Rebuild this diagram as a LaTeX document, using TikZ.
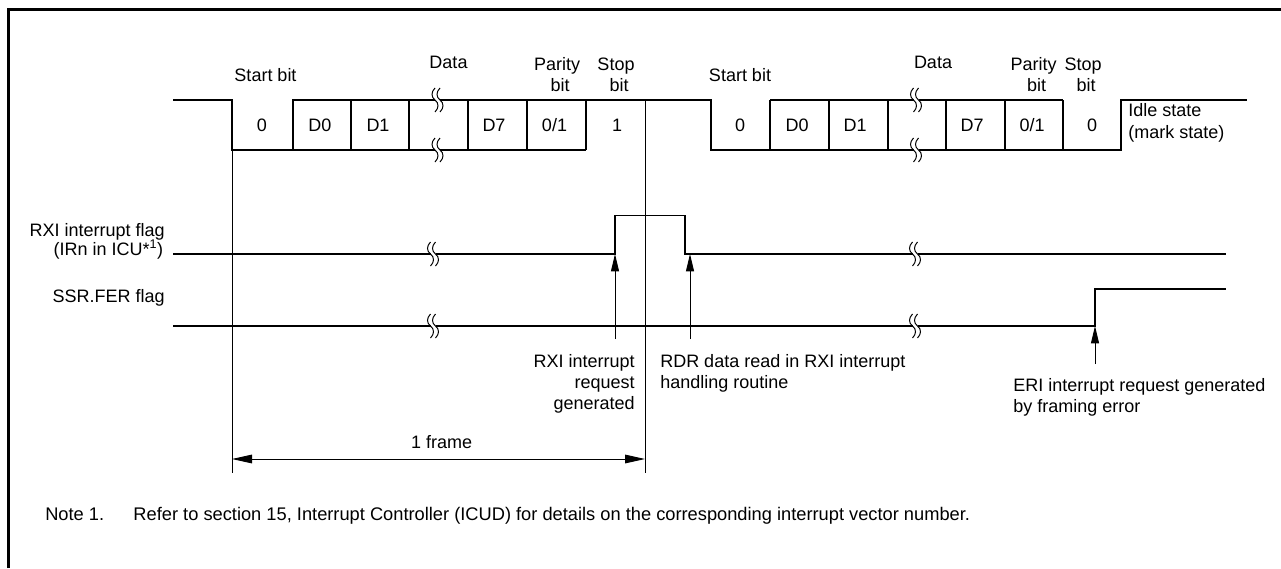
\documentclass[tikz,border=0pt]{standalone}
\usepackage{fontspec}
\setmainfont{Liberation Sans}
\usetikzlibrary{arrows.meta}
\tikzset{
  lbl/.style={inner sep=0pt, font=\fontsize{13.5}{15.75}\selectfont},
  notelbl/.style={inner sep=0pt, font=\fontsize{13.7}{16}\selectfont},
  sig/.style={line width=1.15pt},
  thinln/.style={line width=0.7pt},
  uparrow/.style={thinln, -{Triangle[length=13pt,width=6pt]}},
  dimarrow/.style={thinln, {Triangle[length=15pt,width=6.5pt]}-{Triangle[length=15pt,width=6.5pt]}},
  brkmark/.pic={
    \fill[white] (-2.5,-2.5) rectangle (2.5,2.5);
    \draw[line width=0.75pt] (-2.5,-12) .. controls (-6.5,-8) and (-6.5,-3) .. (-2.5,0) .. controls (1.5,3) and (1.5,8) .. (-2.5,12);
    \draw[line width=0.75pt] (2.5,-12) .. controls (-1.5,-8) and (-1.5,-3) .. (2.5,0) .. controls (6.5,3) and (6.5,8) .. (2.5,12);
  }
}
\begin{document}
\begin{tikzpicture}[x=0.75pt,y=-0.75pt]
\useasboundingbox (0,0) rectangle (1281,568);
% border
\draw[line width=2.25pt] (8.5,568) -- (8.5,9.5) -- (1281,9.5);

% ---------- serial waveform ----------
\draw[sig] (173,100) -- (232,100) -- (232,150) -- (586,150);
\draw[sig] (293,150) -- (293,100) -- (711,100) -- (711,150) -- (1121,150) -- (1121,100) -- (1247,100);
\draw[sig] (770,100) -- (1063,100);
\foreach \x in {351,409,468,527,586,770,829,888,946,1005,1063}
  \draw[sig] (\x,100) -- (\x,150);
% frame markers
\draw[thinln] (232,150) -- (232,473);
\draw[thinln] (645,100) -- (645,473);
% breaks in waveform
\pic at (437.5,100) {brkmark};
\pic at (437.5,150) {brkmark};
\pic at (916,100) {brkmark};
\pic at (916,150) {brkmark};

% labels above waveform
\node[lbl,anchor=base] (sb1) at (265.5,81.5) {Start bit};
\node[lbl,anchor=base] (dt1) at (448.5,68.5) {Data};
\node[lbl,anchor=base] (pa1) at (557,70.5) {Parity};
\node[lbl,anchor=base] (pb1) at (560,91.5) {bit};
\node[lbl,anchor=base] (st1) at (616,70.5) {Stop};
\node[lbl,anchor=base] (sbt1) at (619,91.5) {bit};
\node[lbl,anchor=base] (sb2) at (740,81.5) {Start bit};
\node[lbl,anchor=base] (dt2) at (933,68.5) {Data};
\node[lbl,anchor=base] (pa2) at (1033.5,70.5) {Parity};
\node[lbl,anchor=base] (pb2) at (1036.5,91.5) {bit};
\node[lbl,anchor=base] (st2) at (1083,70.5) {Stop};
\node[lbl,anchor=base] (sbt2) at (1086,91.5) {bit};

% cell contents
\node[lbl,anchor=base] (c10) at (262,131.5) {0};
\node[lbl,anchor=base] (c11) at (320,131.5) {D0};
\node[lbl,anchor=base] (c12) at (378,131.5) {D1};
\node[lbl,anchor=base] (c13) at (494,131.5) {D7};
\node[lbl,anchor=base] (c14) at (554.5,131.5) {0/1};
\node[lbl,anchor=base] (c15) at (617,131.5) {1};
\node[lbl,anchor=base] (c20) at (740,131.5) {0};
\node[lbl,anchor=base] (c21) at (797,131.5) {D0};
\node[lbl,anchor=base] (c22) at (855,131.5) {D1};
\node[lbl,anchor=base] (c23) at (972,131.5) {D7};
\node[lbl,anchor=base] (c24) at (1032,131.5) {0/1};
\node[lbl,anchor=base] (c25) at (1092,131.5) {0};
\node[lbl,anchor=base west] (idle1) at (1128,116.5) {Idle state};
\node[lbl,anchor=base west] (idle2) at (1128,138) {(mark state)};

% ---------- RXI flag ----------
\node[lbl,anchor=base east] (rxil1) at (165,236) {RXI interrupt flag};
\node[lbl,anchor=base east] (rxil2) at (163.5,255.5) {(IRn in ICU*\textsuperscript{1})};
\draw[sig] (173,254) -- (615,254) -- (615,215.5) -- (685,215.5) -- (685,254) -- (1226,254);
\pic at (433,254) {brkmark};
\pic at (915,254) {brkmark};

% ---------- SSR.FER flag ----------
\node[lbl,anchor=base east] (ferl) at (165,302) {SSR.FER flag};
\draw[sig] (173,326) -- (1095,326) -- (1095,289) -- (1226,289);
\pic at (433,326) {brkmark};
\pic at (915,326) {brkmark};

% ---------- event arrows ----------
\coordinate (a1s) at (615,339);
\coordinate (a1e) at (615,254);
\coordinate (a2s) at (690,339);
\coordinate (a2e) at (690,254);
\coordinate (a3s) at (1095,364);
\coordinate (a3e) at (1095,326);
\draw[uparrow] (a1s) -- (a1e);
\draw[uparrow] (a2s) -- (a2e);
\draw[uparrow] (a3s) -- (a3e);

\node[lbl,anchor=base east] (rq1) at (635,367.7) {RXI interrupt};
\node[lbl,anchor=base east] (rq2) at (635,388.5) {request};
\node[lbl,anchor=base east] (rq3) at (635,409.3) {generated};
\node[lbl,anchor=base west] (rd1) at (660,367.7) {RDR data read in RXI interrupt};
\node[lbl,anchor=base west] (rd2) at (660,388.5) {handling routine};
\node[lbl,anchor=base west] (er1) at (1013,391.7) {ERI interrupt request generated};
\node[lbl,anchor=base west] (er2) at (1013,412.5) {by framing error};

% ---------- 1 frame ----------
\coordinate (fl) at (232,459);
\coordinate (fr) at (645,459);
\draw[dimarrow] (fl) -- (fr);
\node[lbl,anchor=base] (frm) at (441.7,448) {1 frame};

% ---------- note ----------
\node[notelbl,anchor=base west] (note) at (45,520.5) {Note 1.\hspace{22pt}Refer to section 15, Interrupt Controller (ICUD) for details on the corresponding interrupt vector number.};
\end{tikzpicture}
\end{document}
